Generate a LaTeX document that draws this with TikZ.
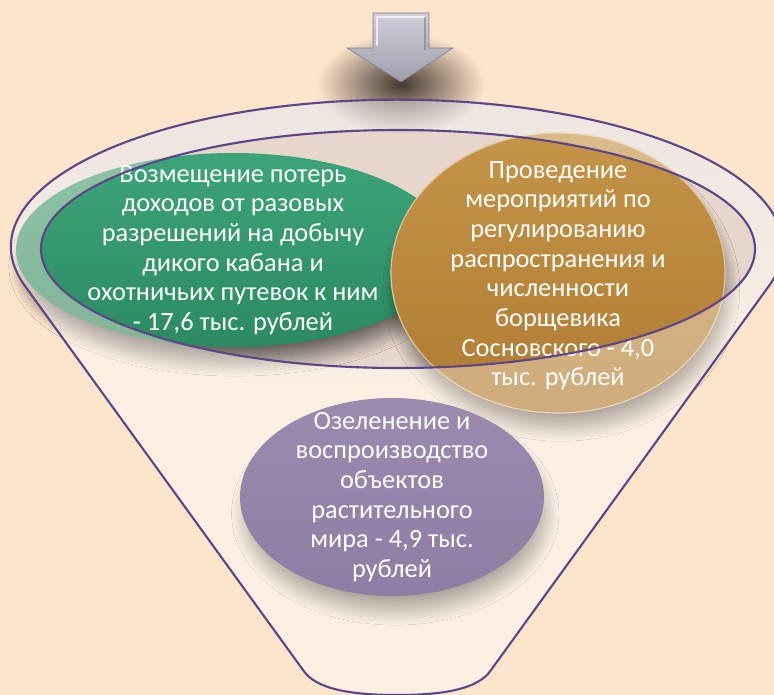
\documentclass[tikz,border=0pt]{standalone}
\usepackage{fontspec}
\setmainfont{Carlito}
\usetikzlibrary{shapes.geometric,shadows.blur,fadings}

\definecolor{peach}{HTML}{FDE5CB}
\definecolor{funnelbody}{HTML}{FCF0E3}
\definecolor{funnelrim}{HTML}{E4DFE1}
\definecolor{funnelmouth}{HTML}{E6D6CB}
\definecolor{funnelline}{HTML}{5D4589}
\definecolor{greentop}{HTML}{3DA47A}
\definecolor{greenbot}{HTML}{2C8A62}
\definecolor{goldtop}{HTML}{C49448}
\definecolor{goldbot}{HTML}{AE7C32}
\definecolor{violettop}{HTML}{57428A}
\definecolor{violetbot}{HTML}{402C77}
\definecolor{arrowtop}{HTML}{CFCED9}
\definecolor{arrowbot}{HTML}{A09EAD}
\definecolor{shadowtone}{HTML}{3A3028}

\tikzfading[name=softspot,inner color=transparent!0,outer color=transparent!100]

\begin{document}
\begin{tikzpicture}[x=0.03cm,y=-0.03cm,
    bubble/.style={ellipse,inner sep=0pt,
      blur shadow={shadow xshift=0.1cm,shadow yshift=-0.5cm,shadow scale=0.98,
        shadow blur radius=0.45cm,shadow blur steps=25,shadow opacity=55}},
    bubbletext/.style={text=white,align=center,font=\fontsize{22.5}{25.3}\selectfont},
    rimline/.style={draw=funnelline,line width=1.8pt},
  ]
    \pgfmathsetmacro{\fcx}{397}
    \pgfmathsetmacro{\fcy}{247}
    \pgfmathsetmacro{\frx}{386}
    \pgfmathsetmacro{\fry}{147}
    \pgfmathsetmacro{\mcx}{398}
    \pgfmathsetmacro{\mcy}{249}
    \pgfmathsetmacro{\mrx}{357}
    \pgfmathsetmacro{\mry}{119}
    \useasboundingbox (0,0) rectangle (774,695);
    \clip (0,0) rectangle (774,695);
    \fill[peach] (0,0) rectangle (774,695);
    % funnel
    \fill[funnelbody] (25,286) arc[start angle=164.5,end angle=375.5,x radius=\frx,y radius=\fry]
      -- (491,670) .. controls (478,690) and (440,695) .. (397,695)
      .. controls (354,695) and (316,690) .. (303,670) -- cycle;
    \shade[top color=funnelrim,bottom color=funnelbody] (\fcx,\fcy) ellipse[x radius=\frx,y radius=\fry];
    \fill[funnelmouth] (\mcx,\mcy) ellipse[x radius=\mrx,y radius=\mry];
    % arrow on top
    \fill[shadowtone,opacity=0.95,path fading=softspot] (401,84) ellipse[x radius=84,y radius=50];
    \shade[top color=arrowtop,bottom color=arrowbot,draw=arrowbot!80!black,line width=0.5pt]
      (373,13) -- (429,13) -- (429,48) -- (453,48) -- (401,82) -- (347,48) -- (373,48) -- cycle;
    \draw[white,opacity=0.7,line width=1pt] (377,46) -- (377,17) -- (425,17);
    \draw[arrowbot!70!black,opacity=0.5,line width=1pt] (425,17) -- (425,50);
    % items
    \node[bubble,top color=greentop,bottom color=greenbot,minimum width=13.02cm,minimum height=5.82cm]
      (compensation) at (233,250) {};
    \node[bubble,top color=goldtop,bottom color=goldbot,draw=goldtop!55!white,line width=1pt,
      minimum width=10.02cm,minimum height=8.4cm] (hogweed) at (558,273) {};
    \node[bubble,top color=violettop,bottom color=violetbot,minimum width=9.12cm,minimum height=5.94cm]
      (greening) at (392,497) {};
    % body of the funnel washes what lies behind it
    \fill[funnelbody,opacity=0.42,even odd rule] (25,286) arc[start angle=164.5,end angle=375.5,x radius=\frx,y radius=\fry]
      -- (491,670) .. controls (478,690) and (440,695) .. (397,695)
      .. controls (354,695) and (316,690) .. (303,670) -- cycle
      (\mcx,\mcy) ellipse[x radius=\mrx,y radius=\mry];
    \node[bubbletext] (compensationtext) at (compensation) {Возмещение потерь\\доходов от разовых\\разрешений на добычу\\дикого кабана и\\охотничьих путевок к ним\\- 17,6 тыс. рублей};
    \node[bubbletext] (hogweedtext) at ([yshift=-0.08cm]hogweed) {Проведение\\мероприятий по\\регулированию\\распространения и\\численности\\борщевика\\Сосновского - 4,0\\тыс. рублей};
    \node[bubbletext] (greeningtext) at (greening) {Озеленение и\\воспроизводство\\объектов\\растительного\\мира - 4,9 тыс.\\рублей};
    \draw[rimline] (25,286) arc[start angle=164.5,end angle=375.5,x radius=\frx,y radius=\fry]
      -- (491,670) .. controls (478,690) and (440,695) .. (397,695)
      .. controls (354,695) and (316,690) .. (303,670) -- cycle;
    \draw[rimline] (\mcx,\mcy) ellipse[x radius=\mrx,y radius=\mry];
\end{tikzpicture}
\end{document}
